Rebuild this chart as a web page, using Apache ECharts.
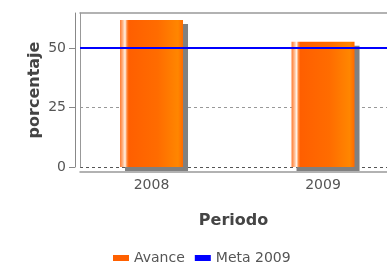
<!doctype html>
<html lang="es">
  <head>
    <meta charset="UTF-8" />
    <title>Avance vs Meta 2009</title>
    <script src="https://cdn.jsdelivr.net/npm/echarts@6/dist/echarts.min.js"></script>
    <style>
      html, body { margin: 0; padding: 0; background: #fff; }
      #chart { width: 387px; height: 262px; }
    </style>
  </head>
  <body>
    <div id="chart"></div>
    <script>
      // Data
      const periods = ['2008', '2009'];
      const avance = [61.8, 52.6];
      const meta = [50];

      const font = 'DejaVu Sans, sans-serif';
      const xMin = -0.417;
      const xMax = 1.373;
      const yMax = 64.7;

      // horizontal gradient like the JFreeChart bar painter
      const barGradient = new echarts.graphic.LinearGradient(0, 0, 1, 0, [
        { offset: 0, color: '#ff7a30' },
        { offset: 0.04, color: '#ffb080' },
        { offset: 0.08, color: '#fff2e6' },
        { offset: 0.11, color: '#ff8a40' },
        { offset: 0.14, color: '#ff5f00' },
        { offset: 0.6, color: '#ff6c00' },
        { offset: 0.92, color: '#ff8600' },
        { offset: 1, color: '#ff6a00' },
      ]);

      const nameStyle = {
        fontFamily: font,
        fontSize: 16,
        fontWeight: 'bold',
        color: '#444',
      };

      const chart = echarts.init(document.getElementById('chart'));

      chart.setOption({
        backgroundColor: '#fff',
        animation: false,
        grid: { left: 80, top: 13, right: 0, bottom: 95 },
        legend: {
          left: 108,
          top: 246,
          itemWidth: 16,
          itemHeight: 6,
          itemGap: 10,
          textStyle: { fontFamily: font, fontSize: 14, color: '#555' },
          data: [
            { name: 'Avance', icon: 'rect', itemStyle: { color: '#ff6000' } },
            {
              name: 'Meta 2009',
              icon: 'rect',
              itemStyle: { color: '#0000ff' },
              lineStyle: { opacity: 0 },
            },
          ],
        },
        xAxis: [
          {
            type: 'value',
            min: xMin,
            max: xMax,
            offset: 5,
            name: 'Periodo',
            nameLocation: 'middle',
            nameGap: 41,
            nameMoveOverlap: false,
            nameTextStyle: nameStyle,
            axisLine: {
              show: true,
              onZero: false,
              lineStyle: { color: '#999', width: 1.5 },
            },
            axisTick: { show: false },
            splitLine: { show: false },
            axisLabel: {
              customValues: [0, 1],
              formatter: (v) => periods[Math.round(v)],
              fontFamily: font,
              fontSize: 14,
              color: '#555',
              margin: 6,
            },
          },
          {
            // top edge of the plot frame
            type: 'value',
            position: 'top',
            min: xMin,
            max: xMax,
            axisLine: {
              show: true,
              onZero: false,
              lineStyle: { color: '#999', width: 1.5 },
            },
            axisTick: { show: false },
            axisLabel: { show: false },
            splitLine: { show: false },
          },
        ],
        yAxis: [
          {
            type: 'value',
            min: 0,
            max: yMax,
            interval: 25,
            offset: 5,
            name: 'porcentaje',
            nameLocation: 'middle',
            nameGap: 32,
            nameMoveOverlap: false,
            nameTextStyle: nameStyle,
            axisLine: {
              show: true,
              onZero: false,
              lineStyle: { color: '#888', width: 1 },
            },
            axisTick: { show: true, length: 6, lineStyle: { color: '#888' } },
            axisLabel: {
              fontFamily: font,
              fontSize: 14,
              color: '#555',
              margin: 9,
              showMaxLabel: false,
            },
            splitLine: {
              show: true,
              showMaxLine: false,
              lineStyle: {
                color: ['#555', '#999', '#999'],
                type: [3, 3],
                width: 1,
              },
            },
          },
          {
            // left edge of the plot frame
            type: 'value',
            position: 'left',
            min: 0,
            max: yMax,
            axisLine: {
              show: true,
              onZero: false,
              lineStyle: { color: '#999', width: 1 },
            },
            axisTick: { show: false },
            axisLabel: { show: false },
            splitLine: { show: false },
          },
        ],
        series: [
          {
            name: 'Avance',
            type: 'bar',
            barWidth: 63,
            data: avance.map((v, i) => [i, v]),
            itemStyle: {
              color: barGradient,
              shadowColor: '#808080',
              shadowBlur: 0,
              shadowOffsetX: 5,
              shadowOffsetY: 4,
            },
          },
          {
            name: 'Meta 2009',
            type: 'line',
            color: '#0000ff',
            data: [],
            markLine: {
              silent: true,
              symbol: 'none',
              label: { show: false },
              lineStyle: { color: '#0000ff', width: 2, type: 'solid' },
              data: meta.map((v) => ({ yAxis: v })),
            },
          },
        ],
      });
    </script>
  </body>
</html>
